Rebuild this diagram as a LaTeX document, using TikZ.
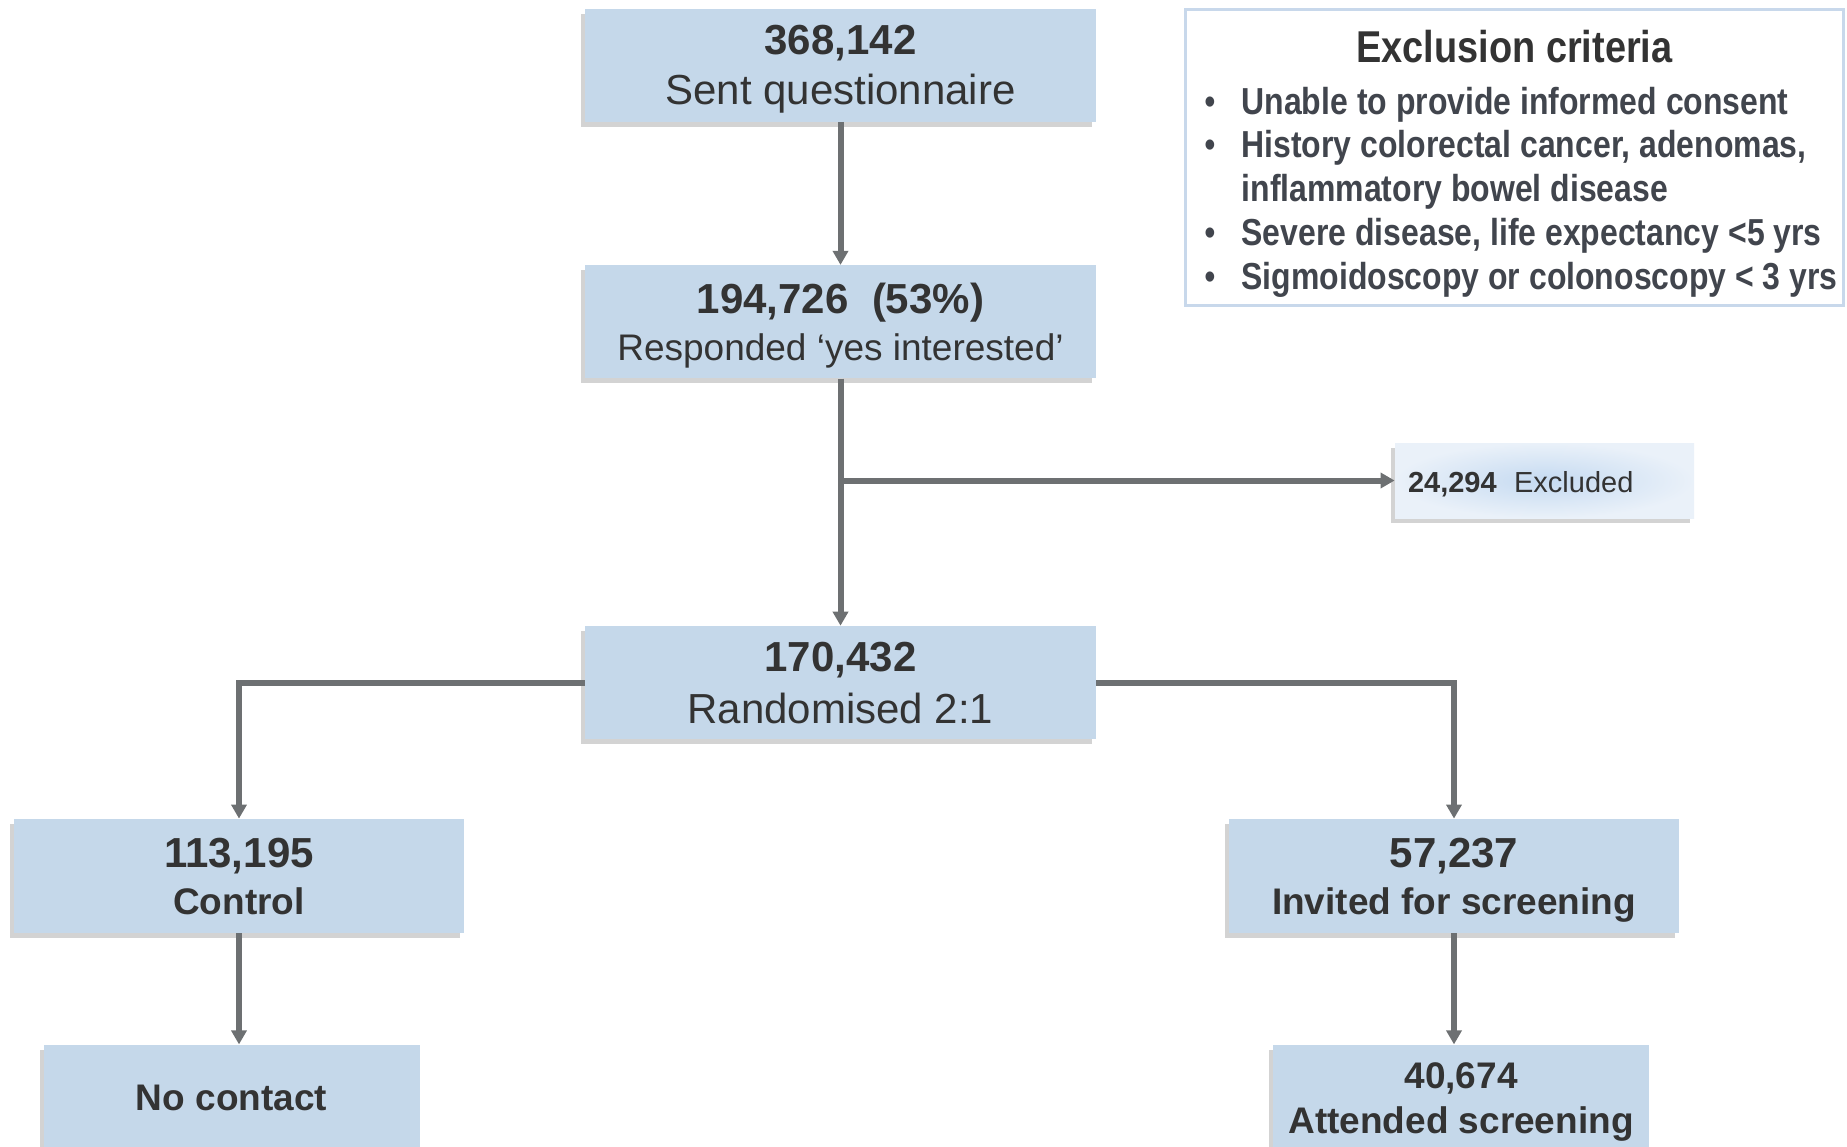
\documentclass[tikz,border=0pt]{standalone}
\usepackage{fontspec}
\setmainfont{Liberation Sans}
\newfontfamily\narrowsans[FakeStretch=0.85]{Liberation Sans}
\usepackage{xcolor}
\usetikzlibrary{arrows.meta, positioning, shadows}

\definecolor{boxblue}{HTML}{C5D8EA}
\definecolor{inkgray}{HTML}{333333}
\definecolor{listgray}{HTML}{41454D}
\definecolor{linegray}{HTML}{6D7072}
\definecolor{rimblue}{HTML}{C8D8EB}
\definecolor{glowblue}{HTML}{C5DAF1}
\definecolor{paleblue}{HTML}{EAF1F9}

\begin{document}
\begin{tikzpicture}[x=0.5pt, y=-0.5pt]
            \tikzstyle{flowbox} = [shape=rectangle, fill=boxblue, text=inkgray, align=center, inner sep=0pt, text depth=0pt, minimum width=255.5pt, minimum height=56.5pt, drop shadow={shadow xshift=-2pt, shadow yshift=-2.5pt, opacity=0.35}];
\tikzstyle{flowbox2} = [flowbox, minimum width=225pt, minimum height=57pt, font=\bfseries\fontsize{18.5}{23.5}\selectfont];
\tikzstyle{flowbox3} = [flowbox, minimum width=188pt, minimum height=53pt, font=\bfseries\fontsize{18.5}{22.5}\selectfont];
\tikzstyle{exclbox} = [shape=rectangle, inner color=glowblue, outer color=paleblue, text=inkgray, minimum height=37.5pt, text width=136.5pt, text height=11.7pt, text depth=0pt, inner xsep=6.5pt, inner ysep=0pt, align=left, font=\fontsize{14.5}{17}\selectfont, drop shadow={shadow xshift=-2pt, shadow yshift=-2.5pt, opacity=0.35}];
\tikzstyle{critbox} = [shape=rectangle, draw=rimblue, line width=1.5pt, fill=white, minimum width=329pt, minimum height=148pt];

\useasboundingbox (0,0) rectangle (1847,1146);

\node[flowbox, font=\fontsize{21}{25}\selectfont](Sent) at (840.5,65) {{\bfseries 368,142}\\Sent questionnaire};
\node[flowbox, below=71.5pt of Sent, font=\fontsize{21}{23.5}\selectfont](Responded) {{\bfseries 194,726\ \ (53\%)}\\{\fontsize{18.5}{23.5}\selectfont Responded ‘yes interested’}};
\node[flowbox, below=123.5pt of Responded, font=\fontsize{21}{26}\selectfont](Randomised) {{\bfseries 170,432}\\Randomised 2:1};
\node[exclbox](Excluded) at (1544.5,480.5) {\textbf{24,294}\hspace{0.6em}Excluded};
\node[flowbox2](Control) at (239,876) {{\fontsize{21}{23.5}\selectfont 113,195}\\Control};
\node[flowbox2](Invited) at (1454,876) {{\fontsize{21}{23.5}\selectfont 57,237}\\Invited for screening};
\node[flowbox3, below=55.5pt of Control, xshift=-3.75pt](NoContact) {No contact};
\node[flowbox3, below=55.5pt of Invited, xshift=3.5pt](Attended) {40,674\\Attended screening};

% exclusion criteria panel
\node[critbox](Criteria) at (1514.5,157.5) {};
\node[anchor=base, inner sep=0pt, text=inkgray, font=\narrowsans\bfseries\fontsize{22.3}{27}\selectfont](CritTitle) at (1514.5,62) {Exclusion criteria};
\node[anchor=base west, inner sep=0pt, text=listgray, font=\narrowsans\bfseries\fontsize{18.8}{21.9}\selectfont](CritList) at (1204,114) {%
  \begin{tabular}[t]{@{}l@{\hspace{13pt}}l@{}}
  {\mdseries\textbullet} & Unable to provide informed consent\\
  {\mdseries\textbullet} & History colorectal cancer, adenomas,\\
   & inflammatory bowel disease\\
  {\mdseries\textbullet} & Severe disease, life expectancy <5 yrs\\
  {\mdseries\textbullet} & Sigmoidoscopy or colonoscopy < 3 yrs
  \end{tabular}};

\coordinate (Branch) at (Responded |- Excluded);

\path[-{Triangle[length=7pt,width=7.5pt]}, line width=3pt, color=linegray]
    (Sent) edge (Responded)
    (Responded) edge (Randomised)
    (Branch) edge (Excluded)
    (Randomised) edge[to path={-| (\tikztotarget)}] (Control)
    (Randomised) edge[to path={-| (\tikztotarget)}] (Invited)
    (Control) edge (Control |- NoContact.north)
    (Invited) edge (Invited |- Attended.north)
;
        \end{tikzpicture}
\end{document}
